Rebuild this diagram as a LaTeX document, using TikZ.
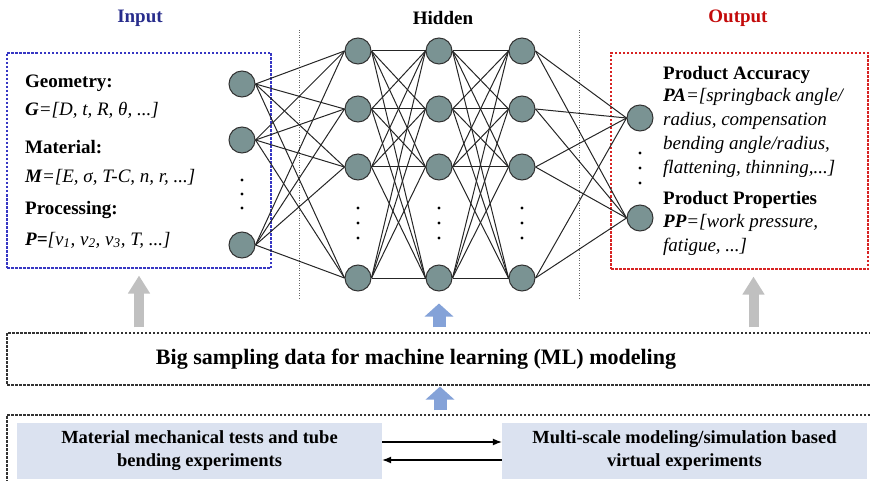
\documentclass[tikz,border=0pt]{standalone}
\usepackage{fontspec}
\setmainfont{Liberation Serif}
\usetikzlibrary{positioning,arrows.meta}

\definecolor{neurongray}{RGB}{122,147,147}
\definecolor{inblue}{RGB}{55,55,195}
\definecolor{outred}{RGB}{215,35,35}
\definecolor{titleblue}{RGB}{40,45,140}
\definecolor{titlered}{RGB}{195,10,10}
\definecolor{expfill}{RGB}{219,226,240}
\definecolor{upblue}{RGB}{132,162,216}
\definecolor{upgray}{RGB}{192,192,192}

\tikzset{
  neuron/.style={circle, draw=black!80, fill=neurongray, line width=1pt,
    minimum size=26pt, inner sep=0pt},
  link/.style={black!85, line width=1pt},
  lab/.style={inner sep=0pt, font=\fontsize{19}{24}\selectfont},
  layertitle/.style={font=\fontsize{19}{23}\selectfont\bfseries},
  inframe/.style={draw=inblue, line width=1.1pt, dash pattern=on 2.5pt off 1.5pt},
  outframe/.style={draw=outred, line width=1.1pt, dash pattern=on 2.5pt off 1.5pt},
  dataframe/.style={draw=black!80, line width=1.1pt, dash pattern=on 2.5pt off 1.5pt},
  expbox/.style={fill=expfill, minimum width=365pt, minimum height=56pt,
    align=center, font=\fontsize{18.5}{23}\selectfont\bfseries},
  sep/.style={black!60, line width=1pt, dash pattern=on 1pt off 1.5pt},
  feedup/.style={upgray, line width=10pt, -{Triangle[width=21pt,length=18pt]}},
  dataup/.style={upblue, line width=13pt, -{Triangle[width=28pt,length=13pt]}},
  swap/.style={black, line width=1.2pt, -{Latex[length=9pt,width=7pt]}}
}

\begin{document}
\begin{tikzpicture}[x=1pt,y=-1pt]
  \useasboundingbox (0,0) rectangle (870,481);

  \node[layertitle, text=titleblue] (intitle) at (140,18) {Input};
  \node[layertitle] (hidtitle) at (443,18) {Hidden};
  \node[layertitle, text=titlered] (outtitle) at (738,18) {Output};

  \draw[sep] (299,30) -- (299,298);
  \draw[sep] (579,30) -- (579,298);

  % frames
  \node[inframe, minimum width=264pt, minimum height=215pt] (inbox) at (139,160.5) {};
  \node[outframe, minimum width=257pt, minimum height=216pt] (outbox) at (739.5,161) {};
  \node[dataframe, minimum width=866pt, minimum height=52pt] (samp) at (440,359) {};
  \node[dataframe, minimum width=866pt, minimum height=75pt] (expframe) at (440,452.5) {};

  % network
  \foreach \n/\y in {1/84,2/140,3/245}
    \node[neuron] (in\n) at (242,\y) {};
  \foreach \c/\x in {a/358,b/439,c/522}
    \foreach \n/\y in {1/51,2/109,3/167,4/278}
      \node[neuron] (h\c\n) at (\x,\y) {};
  \node[neuron] (out1) at (640,118) {};
  \node[neuron] (out2) at (640,218) {};

  \foreach \i in {1,2,3}
    \foreach \j in {1,...,4}
      \draw[link] (in\i.east) -- (ha\j.west);
  \foreach \i in {1,...,4}
    \foreach \j in {1,...,4} {
      \draw[link] (ha\i.east) -- (hb\j.west);
      \draw[link] (hb\i.east) -- (hc\j.west);
    }
  \foreach \i in {1,...,4}
    \foreach \j in {1,2}
      \draw[link] (hc\i.east) -- (out\j.west);

  \foreach \y in {180,194,208}
    \fill (242,\y) circle (1.7pt);
  \foreach \x in {358,439,522}
    \foreach \y in {208,223,238}
      \fill (\x,\y) circle (1.7pt);
  \foreach \y in {153,168,183}
    \fill (640,\y) circle (1.7pt);

  % input parameters
  \node[lab, anchor=west] (geo) at (25,83) {\textbf{Geometry:}};
  \node[lab, anchor=west] (geovec) at (25,110) {\textit{\textbf{G}=[D, t, R, θ, ...]}};
  \node[lab, anchor=west] (mat) at (25,147) {\textbf{Material:}};
  \node[lab, anchor=west] (matvec) at (25,177) {\textit{\textbf{M}=[E, σ, T-C, n, r, ...]}};
  \node[lab, anchor=west] (proc) at (25,210) {\textbf{Processing:}};
  \node[lab, anchor=west] (procvec) at (25,240)
    {\textit{\textbf{P=}[v\textsubscript{1}, v\textsubscript{2}, v\textsubscript{3}, T, ...]}};

  % output quantities
  \node[lab, anchor=west] (pa) at (663,75) {\textbf{Product Accuracy}};
  \node[lab, anchor=west, align=left] (pavec) at (663,132.5)
    {\textit{\textbf{PA}=[springback angle/}\\\textit{radius, compensation}\\
     \textit{bending angle/radius,}\\\textit{flattening, thinning,...]}};
  \node[lab, anchor=west] (pp) at (663,200) {\textbf{Product Properties}};
  \node[lab, anchor=west, align=left] (ppvec) at (663,234.5)
    {\textit{\textbf{PP}=[work pressure,}\\\textit{fatigue, ...]}};

  \node[font=\fontsize{22}{26}\selectfont\bfseries] (samptext) at (416,359)
    {Big sampling data for machine learning (ML) modeling};

  % experiments
  \node[expbox] (tests) at (199.5,451) {Material mechanical tests and tube\\bending experiments};
  \node[expbox] (virtual) at (684.5,451) {Multi-scale modeling/simulation based\\virtual experiments};
  \draw[swap] ([yshift=9pt]tests.east) -- ([yshift=9pt]virtual.west);
  \draw[swap] ([yshift=-9pt]virtual.west) -- ([yshift=-9pt]tests.east);

  % data flow
  \draw[feedup, shorten <=5pt, shorten >=7pt] (samp.north -| inbox.south) -- (inbox.south);
  \draw[feedup, shorten <=5pt, shorten >=7pt] ([xshift=14pt]samp.north -| outbox.south) -- ([xshift=14pt]outbox.south);
  \draw[dataup, shorten <=5pt, shorten >=12pt] (samp.north -| hb4.south) -- (hb4.south);
  \draw[dataup, shorten <=4pt, shorten >=1pt] (expframe.north) -- (samp.south);
\end{tikzpicture}
\end{document}
